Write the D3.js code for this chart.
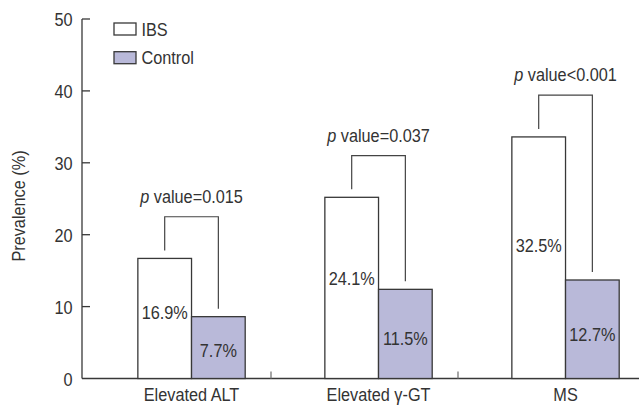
<!DOCTYPE html>
<html>
<head>
<meta charset="utf-8">
<script src="https://cdn.jsdelivr.net/npm/d3@7"></script>
<style>
  html, body { margin: 0; padding: 0; background: #fff; }
  svg { display: block; }
  text { font-family: "Liberation Sans", Arial, sans-serif; fill: #333; }
</style>
</head>
<body>
<svg id="chart" width="639" height="405"></svg>
<script>
const categories = ["Elevated ALT", "Elevated \u03b3-GT", "MS"];
const series = ["IBS", "Control"];
const ibsValues = [16.7, 25.2, 33.6];
const controlValues = [8.6, 12.4, 13.7];
const ibsLabels = ["16.9%", "24.1%", "32.5%"];
const controlLabels = ["7.7%", "11.5%", "12.7%"];
const pValueTexts = ["=0.015", "=0.037", "<0.001"];
const yTicks = [0, 10, 20, 30, 40, 50];
const yTitle = "Prevalence (%)";

const colors = { IBS: "#ffffff", Control: "#b9b9d9" };
const stroke = "#383838";
const fontSize = 18.5;
const squeeze = 0.88;

const svg = d3.select("#chart");

// condensed text helper: places text at (x,y) with optional rotation, squeezed horizontally
function ctext(parent, x, y, anchor, rot) {
  return parent.append("text")
    .attr("transform", `translate(${x},${y})${rot ? ` rotate(${rot})` : ""} scale(${squeeze},1)`)
    .attr("text-anchor", anchor)
    .style("font-size", fontSize + "px");
}

const y = d3.scaleLinear().domain([0, 50]).range([378.5, 19]);
const x = d3.scaleBand().domain(categories).range([84, 645]).padding(0);
const bw = x.bandwidth();
const center = c => x(c) + bw * 0.575;
const xs = d3.scaleBand().domain(series).range([-bw * 0.287, bw * 0.287]).padding(0);

// Y axis (ticks via d3 axis, labels squeezed)
const yAxis = d3.axisLeft(y).tickValues(yTicks).tickSize(0).tickPadding(9);
const gy = svg.append("g").attr("transform", "translate(82,0)").call(yAxis);
gy.select(".domain").remove();
gy.selectAll(".tick text")
  .attr("x", null).attr("dy", null)
  .attr("transform", `translate(-9.5,6.5) scale(${squeeze},1)`)
  .attr("font-family", null).attr("font-size", null)
  .style("font-size", fontSize + "px").attr("fill", "#333");
svg.append("line").attr("x1", 82).attr("x2", 82).attr("y1", y(50)).attr("y2", y(0))
  .attr("stroke", stroke).attr("stroke-width", 1.3);
svg.selectAll(".ytick").data(yTicks.filter(d => d > 0)).join("line")
  .attr("x1", 82).attr("x2", 90).attr("y1", d => y(d)).attr("y2", d => y(d))
  .attr("stroke", stroke).attr("stroke-width", 1.3);

// X axis line
svg.append("line").attr("x1", 82).attr("x2", 639).attr("y1", y(0)).attr("y2", y(0))
  .attr("stroke", stroke).attr("stroke-width", 1.3);
// separators between categories
svg.selectAll(".sep").data(categories.slice(0, -1)).join("line")
  .attr("x1", c => x(c) + bw).attr("x2", c => x(c) + bw)
  .attr("y1", y(0)).attr("y2", y(0) - 7)
  .attr("stroke", "#777").attr("stroke-width", 1.3);

// Category labels
categories.forEach(c => ctext(svg, center(c), 400.5, "middle").text(c));

// Y title
ctext(svg, 25, 206, "middle", -90).text(yTitle);

// Bars
const rows = categories.map((c, i) => ({
  c,
  vals: [
    { s: "IBS", v: ibsValues[i], label: ibsLabels[i], frac: 0.55 },
    { s: "Control", v: controlValues[i], label: controlLabels[i], frac: 0.45 }
  ],
  p: pValueTexts[i]
}));

const groups = svg.selectAll(".grp").data(rows).join("g")
  .attr("transform", d => `translate(${center(d.c)},0)`);

groups.selectAll("rect").data(d => d.vals).join("rect")
  .attr("x", d => xs(d.s)).attr("width", xs.bandwidth())
  .attr("y", d => y(d.v)).attr("height", d => y(0) - y(d.v))
  .attr("fill", d => colors[d.s]).attr("stroke", stroke).attr("stroke-width", 1.3);

groups.each(function (d) {
  const g = d3.select(this);
  d.vals.forEach(v => {
    ctext(g, xs(v.s) + xs.bandwidth() / 2, y(v.v * v.frac) + 6.6, "middle").text(v.label);
  });
  // p-value bracket
  const ibs = d.vals[0], ctl = d.vals[1];
  const top = y(ibs.v + 5.8);
  const xl = xs("IBS") + xs.bandwidth() / 2;
  const xr = xs("Control") + xs.bandwidth() / 2;
  const path = d3.path();
  path.moveTo(xl, y(ibs.v) - 8);
  path.lineTo(xl, top);
  path.lineTo(xr, top);
  path.lineTo(xr, y(ctl.v) - 8);
  g.append("path").attr("d", path.toString()).attr("fill", "none")
    .attr("stroke", "#444").attr("stroke-width", 1.2);
  const t = ctext(g, (xl + xr) / 2, top - 14, "middle");
  t.append("tspan").style("font-style", "italic").text("p");
  t.append("tspan").text(" value" + d.p);
});

// Legend
const legend = svg.append("g").attr("transform", "translate(114,23)");
series.forEach((s, i) => {
  const lg = legend.append("g").attr("transform", `translate(0,${i * 28.7})`);
  lg.append("rect").attr("width", 22).attr("height", 12)
    .attr("fill", colors[s]).attr("stroke", stroke).attr("stroke-width", 1.3);
  ctext(lg, 27.5, 12.7, "start").text(s);
});
</script>
</body>
</html>
